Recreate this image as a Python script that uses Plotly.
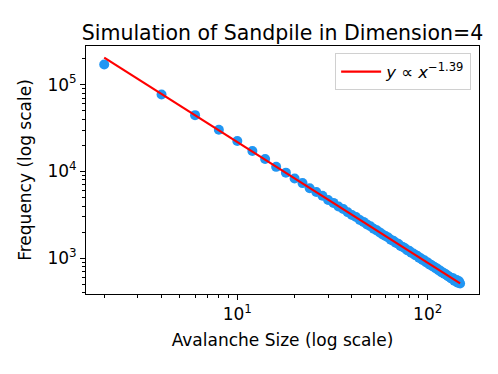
import numpy as np
import plotly.graph_objects as go

# avalanche sizes (even sizes 2..148) and observed frequencies
avalanche_size = list(range(2, 150, 2))
frequency = [
    170000, 77000, 44500, 30200, 22400, 17200, 13900, 11300, 9700, 8300,
    7350, 6400, 5800, 5250, 4700, 4350, 3950, 3700, 3400, 3150,
    2990, 2760, 2630, 2450, 2340, 2190, 2100, 1990, 1880, 1810,
    1740, 1640, 1590, 1510, 1470, 1390, 1350, 1310, 1240, 1220,
    1160, 1140, 1090, 1070, 1020, 1000, 960, 950, 905, 895,
    850, 845, 810, 800, 770, 765, 730, 725, 695, 690,
    665, 660, 640, 625, 610, 600, 585, 590, 555, 545,
    565, 525, 545, 515,
]

# power-law fit parameters
fit_exponent = -1.39
fit_amplitude = 535000

x_ticks = [10, 100]
x_ticktext = ["10<sup>1</sup>", "10<sup>2</sup>"]
y_ticks = [1000, 10000, 100000]
y_ticktext = ["10<sup>3</sup>", "10<sup>4</sup>", "10<sup>5</sup>"]

x = np.array(avalanche_size, dtype=float)
y_fit = fit_amplitude * x ** fit_exponent

fig = go.Figure()
fig.add_trace(go.Scatter(
    x=avalanche_size, y=frequency, mode="markers",
    marker=dict(color="#2196f3", size=10, line=dict(width=0)),
    showlegend=False))
fig.add_trace(go.Scatter(
    x=x, y=y_fit, mode="lines",
    line=dict(color="red", width=2.2),
    name="<i>y</i> ∝ <i>x</i><sup>−1.39</sup>"))

axis_style = dict(
    type="log",
    showline=True, linecolor="black", linewidth=1, mirror=True,
    ticks="outside", ticklen=5, tickcolor="black",
    showgrid=False, zeroline=False,
    tickfont=dict(size=17, color="black"),
    minor=dict(ticks="outside", ticklen=3, tickcolor="black", dtick="D1", showgrid=False),
)

fig.update_xaxes(axis_style, range=[0.2054, 2.2694], tickvals=x_ticks, ticktext=x_ticktext,
                 title=dict(text="Avalanche Size (log scale)", font=dict(size=17, color="black"), standoff=10))
fig.update_yaxes(axis_style, range=[2.590, 5.444], tickvals=y_ticks, ticktext=y_ticktext,
                 title=dict(text="Frequency (log scale)", font=dict(size=17, color="black"), standoff=11))

# page body adds an 8px offset, margins compensate for it
fig.update_layout(
    width=498, height=374,
    margin=dict(l=78, r=27, t=38, b=88),
    paper_bgcolor="white", plot_bgcolor="white",
    font=dict(family="DejaVu Sans", color="black"),
    title=dict(text="Simulation of Sandpile in Dimension=4", x=0.5, xref="paper", xanchor="center",
               y=0.933, yanchor="middle", font=dict(size=20.5, color="black")),
    legend=dict(x=0.98, y=0.97, xanchor="right", yanchor="top",
                bordercolor="#d0d0d0", borderwidth=1, bgcolor="white",
                itemwidth=40, font=dict(size=16.5, color="black")),
)

fig.write_html("out.html")
